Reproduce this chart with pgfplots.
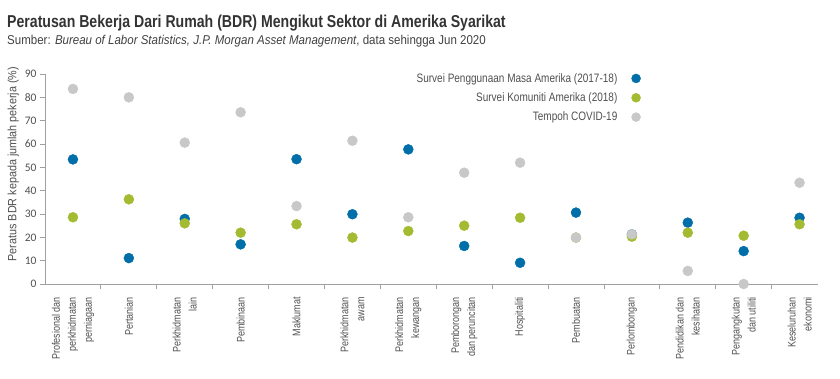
\documentclass[border=0pt]{standalone}
\usepackage{fontspec}
\setmainfont{Liberation Sans}[FakeStretch=0.82]
\newfontfamily\subfont{Liberation Sans}[FakeStretch=0.9]
\newfontfamily\tickfont{Carlito}
\usepackage{pgfplots}
\pgfplotsset{compat=1.18}
\definecolor{cblue}{RGB}{0,110,168}
\definecolor{cgreen}{RGB}{162,187,49}
\definecolor{cgray}{RGB}{200,200,200}
\definecolor{axgray}{RGB}{160,160,160}
\definecolor{txt}{RGB}{80,80,80}
\begin{document}
\begin{tikzpicture}
\useasboundingbox (0pt,0pt) rectangle (840pt,378pt);
\node[anchor=base west, inner sep=0, font=\fontsize{17.2}{20}\selectfont\bfseries, text=black!80] at (7pt,350pt) {Peratusan Bekerja Dari Rumah (BDR) Mengikut Sektor di Amerika Syarikat};
\node[anchor=base west, inner sep=0, font=\subfont\fontsize{12.8}{14}\selectfont, text=black!75] at (7pt,333pt) {Sumber: \textit{Bureau of Labor Statistics, J.P. Morgan Asset Management}, data sehingga Jun 2020};
\begin{axis}[
  at={(45pt,94pt)}, anchor=south west,
  scale only axis, width=773pt, height=210pt,
  xmin=-0.5, xmax=13.33, ymin=0, ymax=90,
  clip=false,
  axis x line*=bottom, axis y line*=left,
  axis line style={axgray, line width=0.9pt},
  tick align=outside,
  major tick length=5pt, minor tick length=5pt,
  tick style={axgray, line width=0.8pt},
  ytick={0,10,...,90},
  yticklabel style={font=\tickfont\fontsize{11.5}{13}\selectfont, text=txt},
  /pgf/number format/assume math mode=true,
  xtick={0,...,13},
  every major x tick/.append style={draw=none},
  minor xtick={0.5,1.5,...,12.5},
  xticklabels={{Profesional dan\\perkhidmatan\\perniagaan},Pertanian,{Perkhidmatan\\lain},Pembinaan,Maklumat,{Perkhidmatan\\awam},{Perkhidmatan\\kewangan},{Pemborongan\\dan peruncitan},Hospitaliti,Pembuatan,Perlombongan,{Pendidikan dan\\kesihatan},{Pengangkutan\\dan utiliti},{Keseluruhan\\ekonomi}},
  xticklabel style={rotate=90, anchor=east, align=right, inner xsep=8pt, font=\fontsize{11}{16}\selectfont, text=txt},
  ylabel={Peratus BDR kepada jumlah pekerja (\%)},
  ylabel style={font=\subfont\fontsize{12}{13}\selectfont, text=txt, at={(ticklabel cs:0.571)}, anchor=south, yshift=-1pt},
  legend plot pos=right,
  legend cell align=right,
  legend image code/.code={\fill[#1] (0pt,0pt) circle (4.5pt);},
  legend style={at={(rel axis cs:0.771,1.014)}, anchor=north east, draw=none, fill=none, inner sep=0pt,
    font=\fontsize{12.2}{14}\selectfont, text=txt, row sep=5pt,
    /tikz/every odd column/.append style={column sep=12pt}},
]
\addplot[only marks, mark=*, mark size=5pt, color=cblue] coordinates {
(0,53.4)(1,11.1)(2,27.9)(3,17.0)(4,53.5)(5,29.9)(6,57.7)(7,16.3)(8,9.1)(9,30.6)(10,21.3)(11,26.3)(12,14.1)(13,28.4)};
\addlegendentry{Survei Penggunaan Masa Amerika (2017-18)}
\addplot[only marks, mark=*, mark size=5pt, color=cgreen] coordinates {
(0,28.6)(1,36.3)(2,26.0)(3,22.0)(4,25.6)(5,19.9)(6,22.7)(7,25.0)(8,28.4)(9,19.9)(10,20.3)(11,22.0)(12,20.7)(13,25.6)};
\addlegendentry{Survei Komuniti Amerika (2018)}
\addplot[only marks, mark=*, mark size=5pt, color=cgray] coordinates {
(0,83.6)(1,80.0)(2,60.6)(3,73.6)(4,33.4)(5,61.4)(6,28.6)(7,47.7)(8,52.0)(9,19.9)(10,21.3)(11,5.6)(12,0)(13,43.4)};
\addlegendentry{Tempoh COVID-19}
\end{axis}
\end{tikzpicture}
\end{document}
